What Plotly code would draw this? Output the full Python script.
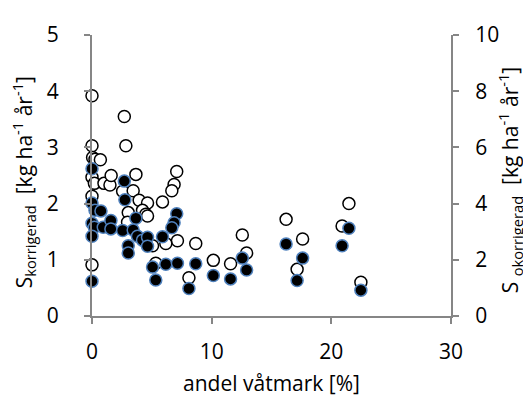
import plotly.graph_objects as go

# S okorrigerad (open circles, right axis)
x_open = [0, 2.7, 0, 2.83, 0.05, 0.25, 0.7, 0, 0.2, 1.0, 1.5, 1.6, 3.67, 7.08, 6.86, 6.67,
          2.56, 3.44, 3.94, 4.64, 5.89, 0, 3.03, 4.22, 4.5, 4.64, 2.97, 7.14, 6.17, 5.06,
          8.67, 0, 5.33, 8.1, 10.14, 11.58, 12.56, 12.92, 16.22, 17.6, 17.14, 21.47, 20.9, 22.47]
y_open = [7.84, 7.1, 6.06, 6.06, 5.64, 5.58, 5.56, 4.94, 4.72, 4.72, 4.66, 5.0, 5.04, 5.14, 4.68, 4.46,
          4.44, 4.46, 4.12, 4.02, 4.06, 4.26, 3.68, 3.76, 3.62, 3.56, 3.34, 2.68, 2.58, 2.5,
          2.58, 1.82, 1.88, 1.36, 1.98, 1.86, 2.88, 2.24, 3.44, 2.74, 1.66, 4.0, 3.2, 1.2]

# S korrigerad (filled circles, left axis)
x_fill = [0, 2.7, 2.75, 0, 0.25, 0.75, 0, 0.2, 0.94, 1.58, 1.58, 0, 3.67, 2.56, 3.44, 3.8,
          3.03, 3.03, 4.22, 4.64, 4.64, 7.08, 6.86, 6.67, 5.89, 5.06, 5.33, 6.17, 7.14, 8.1,
          0, 8.67, 10.14, 11.58, 12.56, 12.92, 16.22, 17.6, 17.14, 21.47, 20.9, 22.47]
y_fill = [2.62, 2.4, 2.07, 2.01, 1.88, 1.87, 1.65, 1.58, 1.58, 1.70, 1.55, 1.42, 1.74, 1.52, 1.53, 1.42,
          1.25, 1.12, 1.35, 1.40, 1.24, 1.82, 1.66, 1.57, 1.41, 0.87, 0.64, 0.92, 0.94, 0.49,
          0.62, 0.93, 0.72, 0.66, 1.03, 0.82, 1.28, 1.03, 0.63, 1.56, 1.25, 0.46]

x_ticks = [0, 10, 20, 30]
yl_ticks = [0, 1, 2, 3, 4, 5]
yr_ticks = [0, 2, 4, 6, 8, 10]

FONT = "Open Sans"
FS = 21
axcol = "#868686"

fig = go.Figure()
fig.add_trace(go.Scatter(
    x=x_open, y=y_open, mode="markers", yaxis="y", cliponaxis=False,
    marker=dict(size=12, color="white", line=dict(color="black", width=1.5)),
    showlegend=False))
fig.add_trace(go.Scatter(
    x=x_fill, y=y_fill, mode="markers", yaxis="y2", cliponaxis=False,
    marker=dict(size=12, color="black", line=dict(color="#4F81BD", width=1.5)),
    showlegend=False))

fig.update_layout(
    width=523, height=401,
    margin=dict(l=84, r=80, t=18, b=93),
    paper_bgcolor="white", plot_bgcolor="white",
    font=dict(family=FONT, size=FS, color="black"),
    xaxis=dict(range=[0, 30], tickvals=x_ticks, showgrid=False, zeroline=False,
               showline=True, linecolor=axcol, linewidth=2, ticks="outside",
               ticklen=6, tickcolor=axcol, tickwidth=1.5, ticklabelstandoff=10,
               title=dict(text="andel våtmark [%]", font=dict(size=FS), standoff=12),
               tickfont=dict(size=FS)),
    yaxis=dict(range=[0, 10], tickvals=yr_ticks, side="right", showgrid=False,
               zeroline=False, showline=True, linecolor=axcol, linewidth=2,
               ticks="outside", ticklen=6, tickcolor=axcol, tickwidth=1.5,
               ticklabelstandoff=12, tickfont=dict(size=FS)),
    yaxis2=dict(range=[0, 5], tickvals=yl_ticks, side="left", overlaying="y",
                showgrid=False, zeroline=False, showline=True, linecolor=axcol,
                linewidth=2, ticks="outside", ticklen=6, tickcolor=axcol, tickwidth=1.5,
                ticklabelstandoff=21, tickfont=dict(size=FS)),
    annotations=[
        dict(text="S<sub>korrigerad</sub>  [kg ha<sup>-1</sup> år<sup>-1</sup>]",
             xref="paper", yref="paper", x=-0.192, y=0.476, textangle=-90,
             xanchor="center", yanchor="middle", showarrow=False,
             font=dict(size=FS)),
        dict(text="S <sub>okorrigerad</sub>  [kg ha<sup>-1</sup> år<sup>-1</sup>]",
             xref="paper", yref="paper", x=1.164, y=0.486, textangle=-90,
             xanchor="center", yanchor="middle", showarrow=False,
             font=dict(size=FS)),
    ],
)

fig.write_html("out.html")
